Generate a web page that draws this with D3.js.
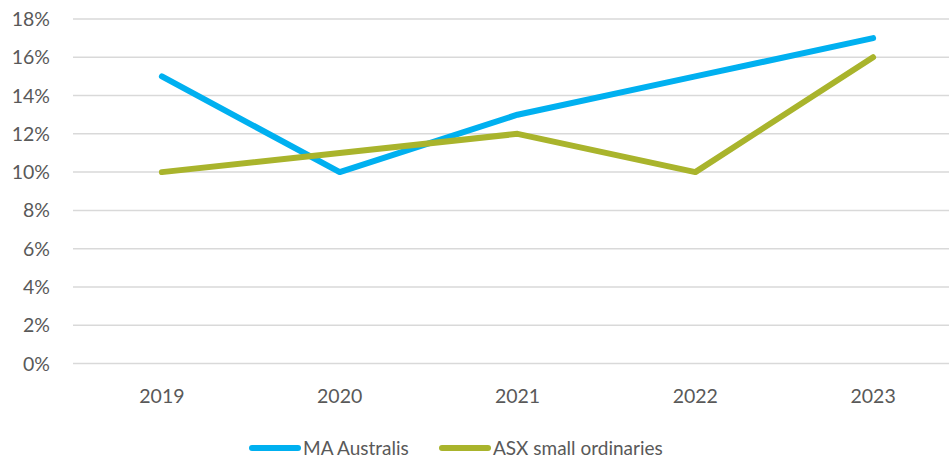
<!DOCTYPE html>
<html lang="en">
<head>
<meta charset="UTF-8">
<title>MA Australis vs ASX small ordinaries</title>
<script src="https://d3js.org/d3.v7.min.js"></script>
<style>
  body { margin: 0; background: #fff; }
  svg { display: block; font-family: Lato, "Open Sans", sans-serif; }
</style>
</head>
<body>
<svg width="949" height="460"></svg>
<script>
// data
let years = ["2019", "2020", "2021", "2022", "2023"];
let maAustralis = [15, 10, 13, 15, 17];
let asxSmallOrds = [10, 11, 12, 10, 16];
let yTicks = [0, 2, 4, 6, 8, 10, 12, 14, 16, 18];
let seriesNames = ["MA Australis", "ASX small ordinaries"];
let seriesColors = ["#00B0F0", "#A9B42C"];

let svg = d3.select("svg");
let plot = {left: 73, right: 962, top: 19, bottom: 363.5};

let x = d3.scaleBand().domain(years).range([plot.left, plot.right]);
let y = d3.scaleLinear().domain([0, 18]).range([plot.bottom, plot.top]);

// gridlines
svg.append("g").selectAll("line").data(yTicks).enter().append("line")
  .attr("x1", plot.left).attr("x2", plot.right)
  .attr("y1", d => y(d)).attr("y2", d => y(d))
  .attr("stroke", "#D9D9D9").attr("stroke-width", 1.5);

// y labels
svg.append("g").selectAll("text").data(yTicks).enter().append("text")
  .attr("x", 50).attr("y", d => y(d))
  .attr("dy", "0.36em")
  .attr("text-anchor", "end")
  .attr("fill", "#595959").attr("font-size", 19.5)
  .text(d => d + "%");

// x labels
svg.append("g").selectAll("text").data(years).enter().append("text")
  .attr("x", d => x(d) + x.bandwidth() / 2).attr("y", 396)
  .attr("dy", "0.36em")
  .attr("text-anchor", "middle")
  .attr("fill", "#595959").attr("font-size", 19.5)
  .text(d => d);

let line = d3.line()
  .x((d, i) => x(years[i]) + x.bandwidth() / 2)
  .y(d => y(d));

[maAustralis, asxSmallOrds].forEach(function (vals, k) {
  svg.append("path").datum(vals)
    .attr("d", line)
    .attr("fill", "none")
    .attr("stroke", seriesColors[k])
    .attr("stroke-width", 6)
    .attr("stroke-linecap", "round")
    .attr("stroke-linejoin", "round");
});

// legend
let legendX = [252, 442];
let legend = svg.append("g").selectAll("g").data(seriesNames).enter().append("g")
  .attr("transform", (d, i) => "translate(" + legendX[i] + ",448)");
legend.append("line")
  .attr("x1", 0).attr("x2", 46)
  .attr("stroke", (d, i) => seriesColors[i])
  .attr("stroke-width", 6).attr("stroke-linecap", "round");
legend.append("text")
  .attr("x", 51).attr("dy", "0.36em")
  .attr("fill", "#595959").attr("font-size", 19)
  .text(d => d);
</script>
</body>
</html>
